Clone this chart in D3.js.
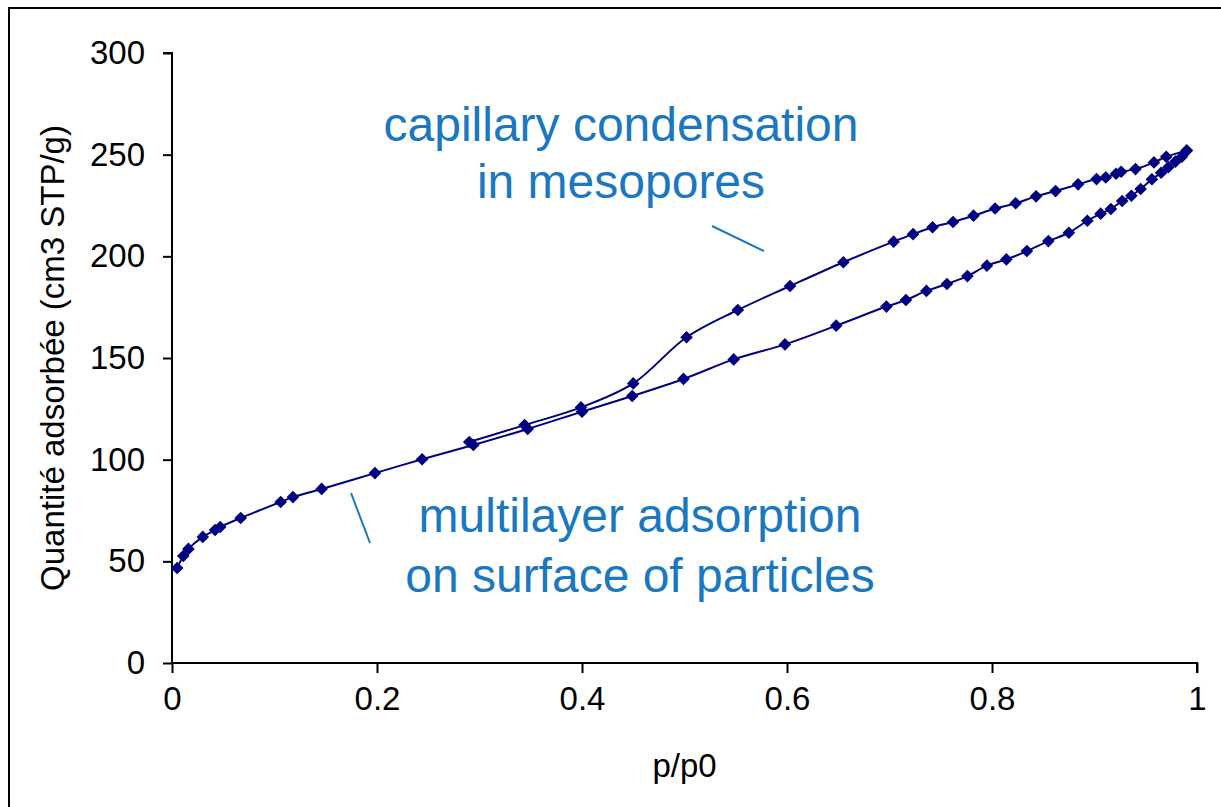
<!DOCTYPE html>
<html>
<head>
<meta charset="utf-8">
<script src="https://cdn.jsdelivr.net/npm/d3@7"></script>
<style>
  html, body { margin: 0; padding: 0; background: #fff; overflow: hidden; }
  svg { display: block; }
  text { font-family: "Liberation Sans", Arial, sans-serif; }
</style>
</head>
<body>
<svg id="chart" width="1221" height="807"></svg>
<script>
// ---- Data ----
const adsX = [0.005,0.011,0.016,0.030,0.042,0.047,0.067,0.106,0.118,0.146,0.198,0.244,0.294,0.347,0.400,0.449,0.499,0.548,0.598,0.648,0.697,0.716,0.736,0.756,0.776,0.795,0.814,0.834,0.855,0.875,0.893,0.906,0.916,0.927,0.936,0.945,0.956,0.965,0.972,0.979,0.985,0.990];
const adsY = [46.7,52.6,56.1,62.0,65.4,66.9,71.3,79.2,81.6,85.6,93.4,100.2,107.2,115.1,123.6,131.3,139.7,149.3,156.7,165.9,175.3,178.5,183.0,186.4,190.3,195.4,198.5,202.6,207.5,211.6,217.5,221.0,223.3,227.2,229.8,233.1,237.9,241.1,243.8,246.6,248.9,252.0];
const desX = [0.990,0.970,0.958,0.940,0.926,0.921,0.911,0.902,0.884,0.862,0.843,0.823,0.803,0.782,0.762,0.742,0.723,0.704,0.655,0.603,0.552,0.502,0.450,0.399,0.344,0.290];
const desY = [252.0,249.0,246.2,242.9,241.6,240.6,238.8,238.0,235.4,232.1,229.5,226.1,223.5,220.0,216.9,214.3,210.9,207.2,197.1,185.4,173.6,160.2,137.5,125.7,117.0,108.7];
const xTicks = [0, 0.2, 0.4, 0.6, 0.8, 1];
const yTicks = [0, 50, 100, 150, 200, 250, 300];
const xTitle = "p/p0";
const yTitle = "Quantité adsorbée (cm3 STP/g)";
const noteTop = ["capillary condensation", "in mesopores"];
const noteBottom = ["multilayer adsorption", "on surface of particles"];

// ---- Layout ----
const svg = d3.select("#chart");
const x = d3.scaleLinear().domain([0, 1]).range([172, 1197]);
const y = d3.scaleLinear().domain([0, 300]).range([663, 53]);
const lineColor = "#000080";
const noteColor = "#1a78c0";

// outer frame
svg.append("rect").attr("x", 9).attr("y", 8).attr("width", 1230).attr("height", 820)
  .attr("fill", "none").attr("stroke", "#000").attr("stroke-width", 2);

// axes
const xAxis = d3.axisBottom(x).tickValues(xTicks).tickSize(10).tickPadding(14)
  .tickFormat(d => d3.format("")(d));
const yAxis = d3.axisLeft(y).tickValues(yTicks).tickSize(9).tickPadding(18);

const gx = svg.append("g").attr("transform", `translate(0,${y(0)})`).call(xAxis);
const gy = svg.append("g").attr("transform", `translate(${x(0)},0)`).call(yAxis);
[gx, gy].forEach(g => {
  g.select(".domain").attr("stroke", "#000").attr("stroke-width", 2);
  g.selectAll(".tick line").attr("stroke", "#000").attr("stroke-width", 2);
  g.selectAll(".tick text").attr("fill", "#000").attr("font-size", 33)
    .attr("font-family", "'Liberation Sans', Arial, sans-serif");
});
gy.select(".domain").attr("d", `M-9,${y(300)}H0V${y(0)}`);
gx.select(".domain").attr("d", `M${x(0)},0H${x(1)}V10`);

// axis titles
svg.append("text").attr("x", (x(0) + x(1)) / 2).attr("y", 777)
  .attr("text-anchor", "middle").attr("font-size", 33).text(xTitle);
svg.append("text").attr("transform", `translate(64,${(y(0) + y(300)) / 2}) rotate(-90)`)
  .attr("text-anchor", "middle").attr("font-size", 33).text(yTitle);

// series
const ads = adsX.map((d, i) => [d, adsY[i]]);
const des = desX.map((d, i) => [d, desY[i]]);
const line = d3.line().x(d => x(d[0])).y(d => y(d[1])).curve(d3.curveCatmullRom.alpha(0.5));
[ads, des].forEach(s => {
  svg.append("path").attr("d", line(s)).attr("fill", "none")
    .attr("stroke", lineColor).attr("stroke-width", 2);
});
const diamond = d3.symbol().type(d3.symbolSquare).size(80);
[ads, des].forEach(s => {
  svg.append("g").selectAll("path").data(s).join("path")
    .attr("d", diamond)
    .attr("transform", d => `translate(${x(d[0])},${y(d[1])}) rotate(45)`)
    .attr("fill", lineColor);
});

// annotations
const noteFont = 48;
noteTop.forEach((t, i) => {
  svg.append("text").attr("x", 621).attr("y", 141 + i * 57).attr("text-anchor", "middle")
    .attr("font-size", noteFont).attr("fill", noteColor).text(t);
});
noteBottom.forEach((t, i) => {
  svg.append("text").attr("x", 640).attr("y", 532 + i * 60).attr("text-anchor", "middle")
    .attr("font-size", noteFont).attr("fill", noteColor).text(t);
});
svg.append("line").attr("x1", 712).attr("y1", 226).attr("x2", 764).attr("y2", 251)
  .attr("stroke", noteColor).attr("stroke-width", 2);
svg.append("line").attr("x1", 351).attr("y1", 493).attr("x2", 370).attr("y2", 543)
  .attr("stroke", noteColor).attr("stroke-width", 2);
</script>
</body>
</html>
